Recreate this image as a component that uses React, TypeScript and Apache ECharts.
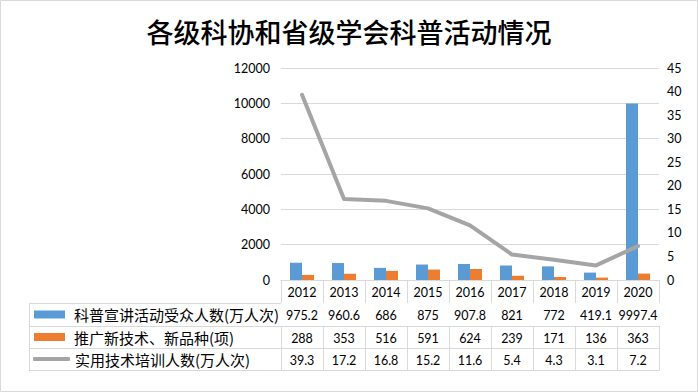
import React, { useEffect, useRef } from "react";
import * as echarts from "echarts";

const years = ["2012", "2013", "2014", "2015", "2016", "2017", "2018", "2019", "2020"];
const audience = [975.2, 960.6, 686, 875, 907.8, 821, 772, 419.1, 9997.4];
const newTech = [288, 353, 516, 591, 624, 239, 171, 136, 363];
const training = [39.3, 17.2, 16.8, 15.2, 11.6, 5.4, 4.3, 3.1, 7.2];
const seriesNames = ["科普宣讲活动受众人数(万人次)", "推广新技术、新品种(项)", "实用技术培训人数(万人次)"];
const titleText = "各级科协和省级学会科普活动情况";

const W = 698;
const H = 392;
const GRID_L = 281;
const GRID_R = 659;
const GRID_T = 68;
const GRID_B = 280;
const rowOffsets = [23, 46, 68, 90];
const BORDER = "#d9d9d9";
const NUM_FONT = "Lato";
const CJK_FONT = "Noto Sans CJK SC";

export default function App() {
  const ref = useRef<HTMLDivElement>(null);
  useEffect(() => {
    if (!ref.current) return;
    const chart = echarts.init(ref.current, null, { renderer: "svg" });
    const rowData = [years, audience, newTech, training];
    const xAxes: any[] = rowData.map((vals, i) => ({
      type: "category",
      data: years,
      position: "bottom",
      offset: i === 0 ? 0 : rowOffsets[i - 1],
      boundaryGap: true,
      axisLine: { show: true, lineStyle: { color: BORDER, width: 1 } },
      axisTick: {
        show: true,
        interval: 0,
        length: rowOffsets[i] - (i === 0 ? 0 : rowOffsets[i - 1]),
        lineStyle: { color: BORDER, width: 1 },
      },
      axisLabel: {
        interval: 0,
        margin: 6,
        fontFamily: NUM_FONT,
        fontSize: 12.5,
        color: "#000",
        formatter: (_v: string, idx: number) => String(vals[idx]),
      },
      splitLine: { show: false },
    }));
    xAxes.push({
      type: "category",
      data: years,
      position: "bottom",
      offset: rowOffsets[3],
      axisLine: { show: true, lineStyle: { color: BORDER, width: 1 } },
      axisTick: { show: false },
      axisLabel: { show: false },
    });

    const legendRows = [
      { name: seriesNames[0], icon: "rect", w: 31, h: 8, left: 34, pad: 4 },
      { name: seriesNames[1], icon: "rect", w: 31, h: 8, left: 34, pad: 4 },
      { name: seriesNames[2], icon: "roundRect", w: 37, h: 4, left: 33, pad: 0 },
    ];
    const legends = legendRows.map((r, i) => {
      const top0 = GRID_B + rowOffsets[i];
      const top1 = GRID_B + rowOffsets[i + 1];
      const center = (top0 + top1) / 2;
      return {
        data: [{ name: r.name, icon: r.icon }],
        left: r.left,
        top: center - 10,
        padding: 0,
        itemWidth: r.w,
        itemHeight: r.h,
        selectedMode: false,
        textStyle: {
          fontFamily: CJK_FONT,
          fontSize: 15,
          color: "#000",
          lineHeight: 20,
          padding: [0, 0, 0, r.pad],
        },
      };
    });

    const lineEls: any[] = [];
    for (let i = 0; i < rowOffsets.length; i++) {
      const y = GRID_B + rowOffsets[i] + 0.5;
      lineEls.push({
        type: "line",
        shape: { x1: 29, y1: y, x2: GRID_L, y2: y },
        style: { stroke: BORDER, lineWidth: 1 },
        silent: true,
      });
    }
    lineEls.push({
      type: "line",
      shape: { x1: 29.5, y1: GRID_B + rowOffsets[0] + 0.5, x2: 29.5, y2: GRID_B + rowOffsets[3] + 0.5 },
      style: { stroke: BORDER, lineWidth: 1 },
      silent: true,
    });
    lineEls.push({
      type: "rect",
      shape: { x: 0.5, y: 0.5, width: W - 1, height: H - 1 },
      style: { fill: "none", stroke: BORDER, lineWidth: 1 },
      silent: true,
    });

    chart.setOption({
      animation: false,
      backgroundColor: "#fff",
      title: {
        text: titleText,
        left: "center",
        top: 13,
        textStyle: { fontFamily: CJK_FONT, fontSize: 27, fontWeight: 500, color: "#000" },
      },
      legend: legends,
      grid: { left: GRID_L, top: GRID_T, width: GRID_R - GRID_L, height: GRID_B - GRID_T, containLabel: false },
      xAxis: xAxes,
      yAxis: [
        {
          type: "value",
          min: 0,
          max: 12000,
          interval: 2000,
          axisLine: { show: false },
          axisTick: { show: false },
          axisLabel: {
            fontFamily: NUM_FONT,
            fontSize: 12.5,
            color: "#000",
            margin: 11,
            formatter: (v: number) => String(v),
          },
          splitLine: { lineStyle: { color: BORDER, width: 1 } },
        },
        {
          type: "value",
          min: 0,
          max: 45,
          interval: 5,
          position: "right",
          axisLine: { show: false },
          axisTick: { show: false },
          axisLabel: {
            fontFamily: NUM_FONT,
            fontSize: 12.5,
            color: "#000",
            margin: 8,
            formatter: (v: number) => String(v),
          },
          splitLine: { show: false },
        },
      ],
      series: [
        {
          name: seriesNames[0],
          type: "bar",
          xAxisIndex: 0,
          yAxisIndex: 0,
          data: audience,
          barWidth: 12,
          barGap: "0%",
          itemStyle: { color: "#5B9BD5" },
        },
        {
          name: seriesNames[1],
          type: "bar",
          xAxisIndex: 0,
          yAxisIndex: 0,
          data: newTech,
          barWidth: 12,
          barGap: "0%",
          itemStyle: { color: "#ED7D31" },
        },
        {
          name: seriesNames[2],
          type: "line",
          xAxisIndex: 0,
          yAxisIndex: 1,
          data: training,
          symbol: "none",
          color: "#A5A5A5",
          itemStyle: { color: "#A5A5A5" },
          lineStyle: { color: "#A5A5A5", width: 4, cap: "round", join: "round" },
          z: 5,
        },
      ],
      graphic: lineEls,
    });
    return () => chart.dispose();
  }, []);
  return (
    <div
      ref={ref}
      style={{ position: "fixed", left: 0, top: 0, width: W, height: H }}
    />
  );
}
